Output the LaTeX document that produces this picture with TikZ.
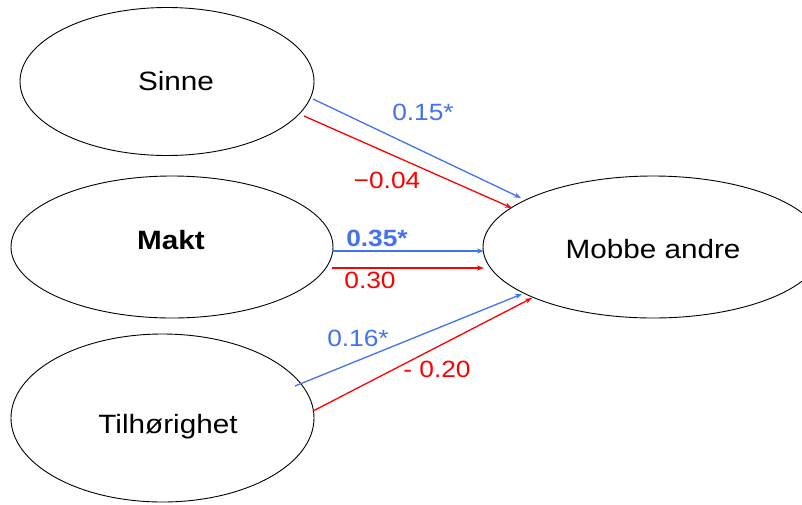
\documentclass[tikz,border=0pt]{standalone}
\usepackage{fontspec}
\setmainfont{Liberation Sans}[FakeStretch=1.12]
\usetikzlibrary{shapes.geometric,arrows.meta}
\definecolor{cblue}{RGB}{66,114,242}
\definecolor{cred}{RGB}{255,0,0}
\tikzset{
  ell/.style={ellipse,draw=black,line width=0.9pt,inner sep=0pt},
  maintext/.style={font=\fontsize{26.5}{30}\selectfont,inner sep=0pt},
  lab/.style={font=\fontsize{23.5}{27}\selectfont,inner sep=0pt},
  barrow/.style={draw=cblue,line width=1.3pt,-{Stealth[length=7pt,width=5pt]}},
  rarrow/.style={draw=cred,line width=1.3pt,-{Stealth[length=7pt,width=5pt]}}
}
\begin{document}
\begin{tikzpicture}[x=1pt,y=-1pt]
\clip (0,0) rectangle (802,504);
\fill[white] (0,0) rectangle (802,504);
% ellipses
\node[ell,minimum width=294pt,minimum height=148pt] (sinne) at (167,81.5) {};
\node[ell,minimum width=322pt,minimum height=142pt] (makt) at (172,247) {};
\node[ell,minimum width=303pt,minimum height=168pt] (tilh) at (162.5,418) {};
\node[ell,minimum width=340pt,minimum height=142pt] (mobbe) at (653,247) {};
% texts
\node[maintext] (sinneT) at (176,81) {Sinne};
\node[maintext] (maktT) at (171,240) {\bfseries Makt};
\node[maintext] (tilhT) at (168,427) {Tilhørighet};
\node[maintext] (mobbeT) at (653,249) {Mobbe andre};
% connector end points
\coordinate (s1) at (313,99);
\coordinate (s2) at (304,116);
\coordinate (m1) at (332,251);
\coordinate (m2) at (332,268);
\coordinate (t1) at (295,386);
\coordinate (t2) at (313,411);
\coordinate (e1) at (521,198);
\coordinate (e2) at (512,208);
\coordinate (e3) at (484,251);
\coordinate (e4) at (484,268);
\coordinate (e5) at (522,294);
\coordinate (e6) at (532,298);
% connectors
\draw[barrow] (s1) -- (e1);
\draw[rarrow] (s2) -- (e2);
\draw[barrow] (m1) -- (e3);
\draw[rarrow] (m2) -- (e4);
\draw[barrow] (t1) -- (e5);
\draw[rarrow] (t2) -- (e6);
% labels
\node[lab,text=cblue] (l1) at (423,112) {0.15*};
\node[lab,text=cred] (l2) at (387,180) {−0.04};
\node[lab,text=cblue] (l3) at (377,238) {\bfseries 0.35*};
\node[lab,text=cred] (l4) at (370,280) {0.30};
\node[lab,text=cblue] (l5) at (358,338) {0.16*};
\node[lab,text=cred] (l6) at (437,369) {- 0.20};
\end{tikzpicture}
\end{document}
